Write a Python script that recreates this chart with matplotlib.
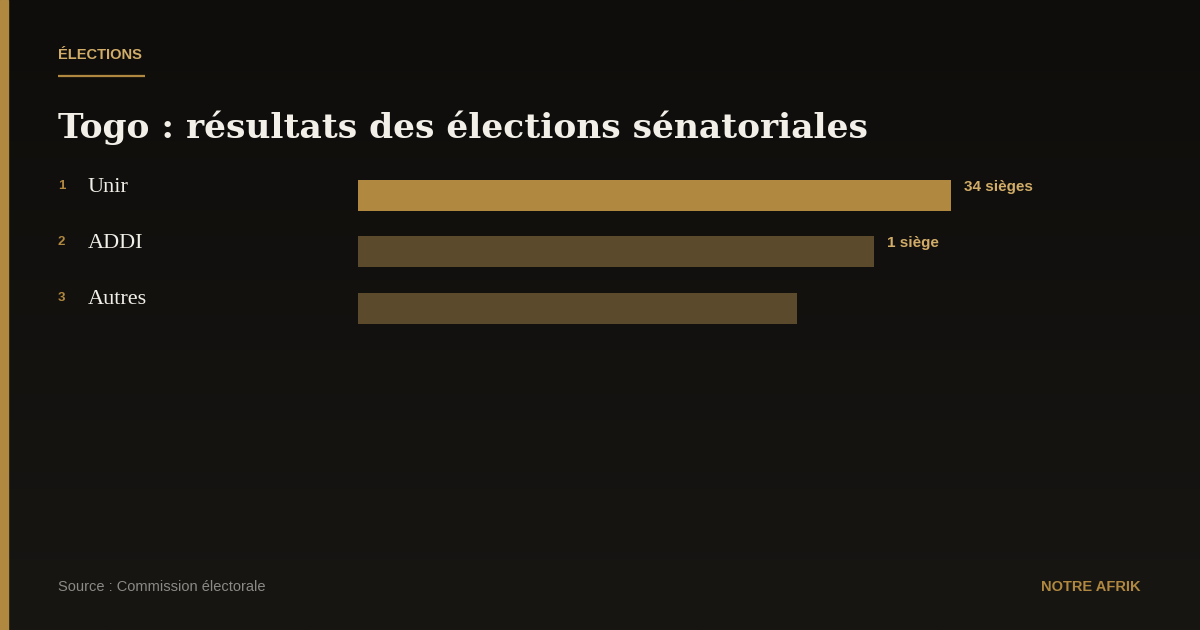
import numpy as np
import matplotlib.pyplot as plt

# données
partis = ['Unir', 'ADDI', 'Autres']
rangs = ['1', '2', '3']
libelles = ['34 sièges', '1 siège', '']
largeurs = [1.0, 0.87, 0.74]   # longueur relative des barres

OR = '#b08840'
OR_SOMBRE = '#5c4a2c'
OR_TEXTE = '#d2ad68'

fig = plt.figure(figsize=(12, 6.3), dpi=100)

# fond en dégradé + cadre en pixels
fond = fig.add_axes([0, 0, 1, 1])
fond.set_xlim(0, 1200)
fond.set_ylim(630, 0)
fond.axis('off')
grad = np.linspace(0, 1, 256).reshape(-1, 1)
c1 = np.array([15, 13, 11]) / 255
c2 = np.array([24, 22, 19]) / 255
img = c1 + grad[..., None] * (c2 - c1)
fond.imshow(img, extent=[0, 1200, 630, 0], aspect='auto', zorder=0)
fond.add_patch(plt.Rectangle((0, 0), 8, 630, color=OR, zorder=1))

fond.text(58, 55, 'ÉLECTIONS', color=OR_TEXTE, fontsize=10.5, fontweight='bold',
          family='Liberation Sans', va='center', ha='left')
fond.plot([58, 145], [76, 76], color=OR, lw=1.6, solid_capstyle='butt')
fond.text(58, 128, 'Togo : résultats des élections sénatoriales', color='#f2efe8',
          fontsize=24.8, fontweight='bold', family='DejaVu Serif', va='center', ha='left')

fond.text(58, 587, 'Source : Commission électorale', color='#8c8a86', fontsize=10.5,
          family='Liberation Sans', va='center', ha='left')
fond.text(1141, 587, 'NOTRE AFRIK', color=OR, fontsize=10.5, fontweight='bold',
          family='Liberation Sans', va='center', ha='right')

# barres
ax = fig.add_axes([358 / 1200, (630 - 336) / 630, (951 - 358) / 1200, 168 / 630])
ax.set_xlim(0, 1)
ax.set_ylim(3, 0)
ax.axis('off')
y = np.arange(len(partis)) + 0.5
couleurs = [OR] + [OR_SOMBRE] * (len(partis) - 1)
ax.barh(y, largeurs, height=31 / 56, color=couleurs)

for i in range(len(partis)):
    yy = 196 + 56 * i
    fond.text(58, yy - 10, rangs[i], color=OR, fontsize=9.5, fontweight='bold',
              family='Liberation Sans', va='center', ha='left')
    fond.text(88, yy - 9, partis[i], color='#f2efe8', fontsize=16,
              family='Liberation Serif', va='center', ha='left')
    if libelles[i]:
        ax.annotate(libelles[i], (largeurs[i], y[i]), xytext=(13, 9),
                    textcoords='offset pixels', color=OR_TEXTE, fontsize=11,
                    fontweight='bold', family='Liberation Sans', va='center', ha='left')

fig.savefig('out.png', dpi=100)
